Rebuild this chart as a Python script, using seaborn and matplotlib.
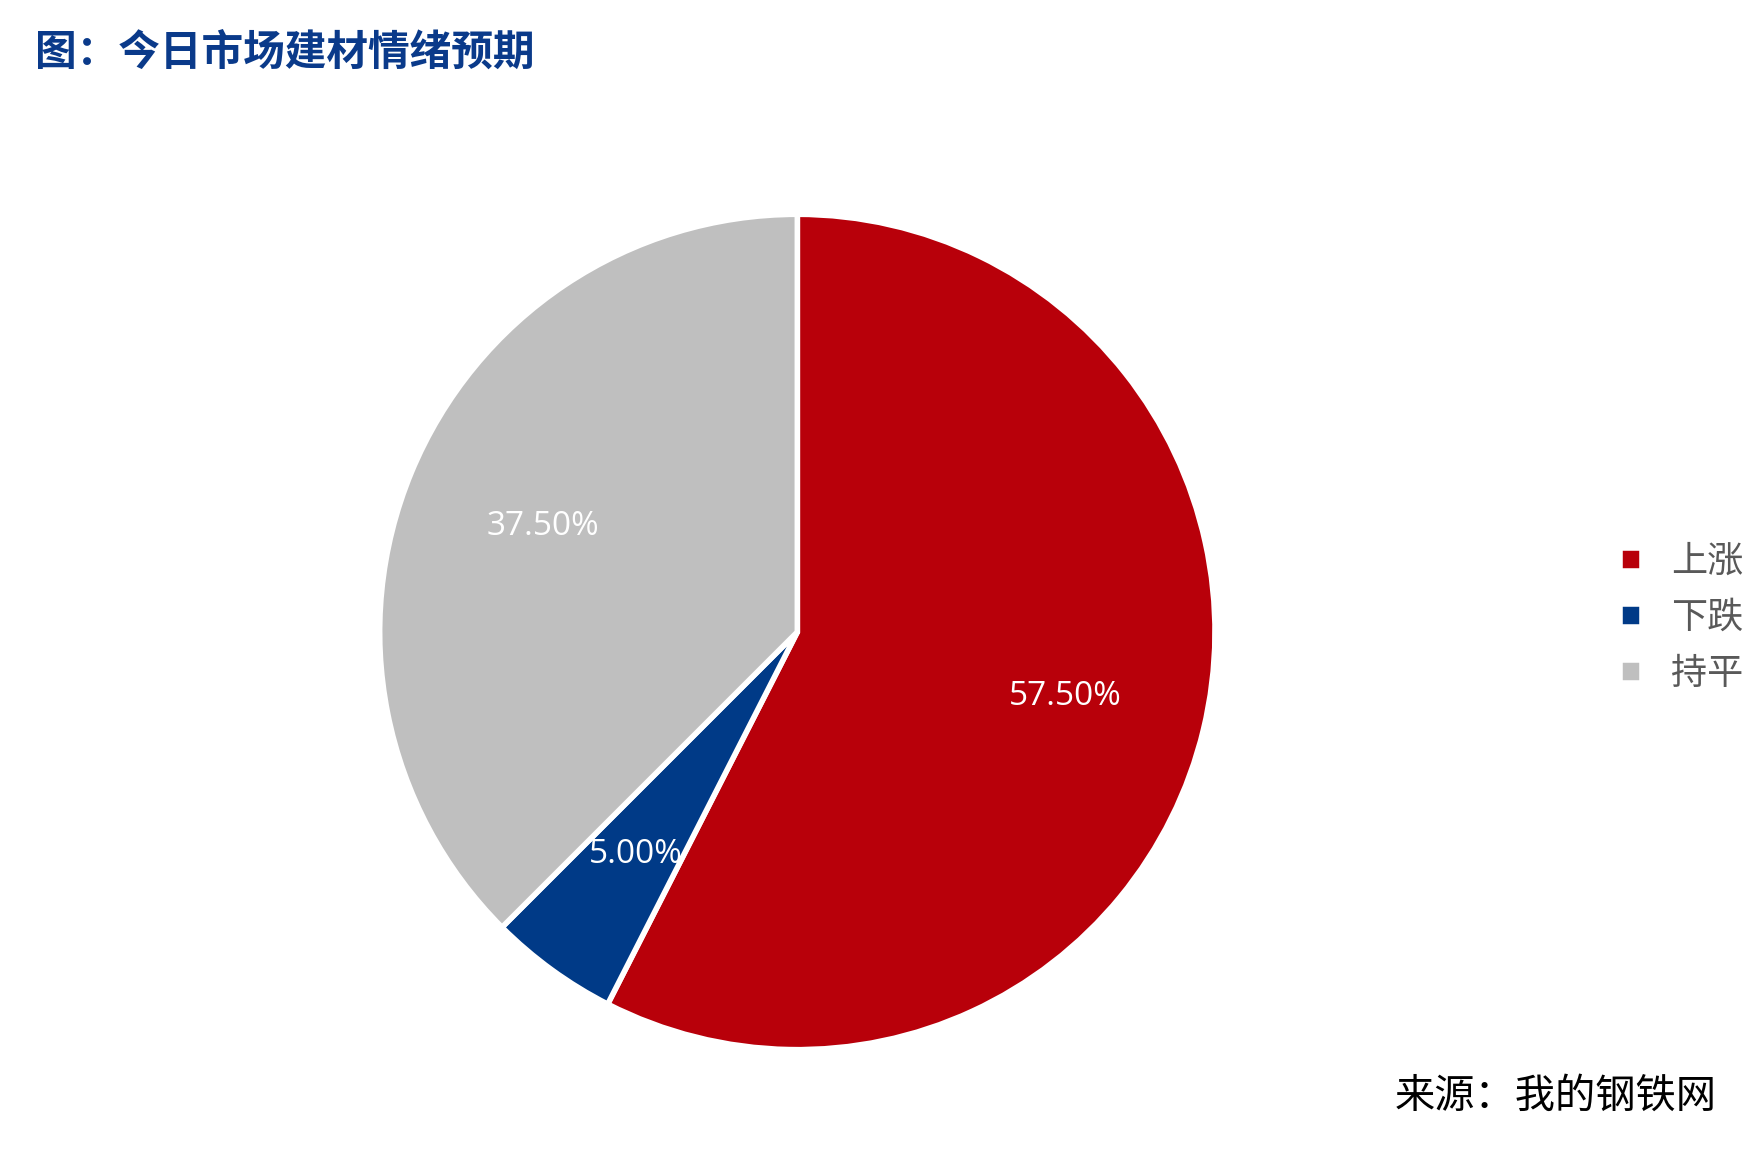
import matplotlib
matplotlib.use("Agg")
import matplotlib.pyplot as plt
import seaborn as sns

sns.set_theme(style="white")
plt.rcParams['font.family'] = ['Noto Sans CJK SC', 'DejaVu Sans']

labels = ["上涨", "下跌", "持平"]
values = [57.5, 5.0, 37.5]
colors = ["#B8000A", "#003A87", "#BFBFBF"]

fig = plt.figure(figsize=(17.64, 11.66), dpi=100)
h = 0.72
w = h * 11.66 / 17.64
ax = fig.add_axes([0.452 - w / 2, 0.458 - h / 2, w, h])
wedges, texts, autotexts = ax.pie(values, colors=colors, startangle=90, counterclock=False,
       autopct=lambda p: f"{p:.2f}%", pctdistance=0.66,
       wedgeprops=dict(edgecolor="white", linewidth=4),
       textprops=dict(color="white", fontsize=24, family=['Open Sans', 'DejaVu Sans']))
ax.set_aspect("equal")
ax.set_xlim(-1.005, 1.005)
ax.set_ylim(-1.005, 1.005)

fig.text(0.02, 0.955, "图：今日市场建材情绪预期", fontsize=30, color="#0A3A8A",
         fontweight="bold", va="center", family=['Noto Sans CJK SC'])
fig.text(0.973, 0.06, "来源：我的钢铁网", fontsize=29, color="black", ha="right", va="center")

leg = fig.legend(wedges, labels, loc="center left", bbox_to_anchor=(0.9, 0.47),
                 frameon=False, fontsize=26, handlelength=0.6, handleheight=0.6,
                 labelspacing=0.55, handletextpad=0.8)
for t in leg.get_texts():
    t.set_color("#595959")

fig.savefig("out.png", dpi=100, facecolor="white")
